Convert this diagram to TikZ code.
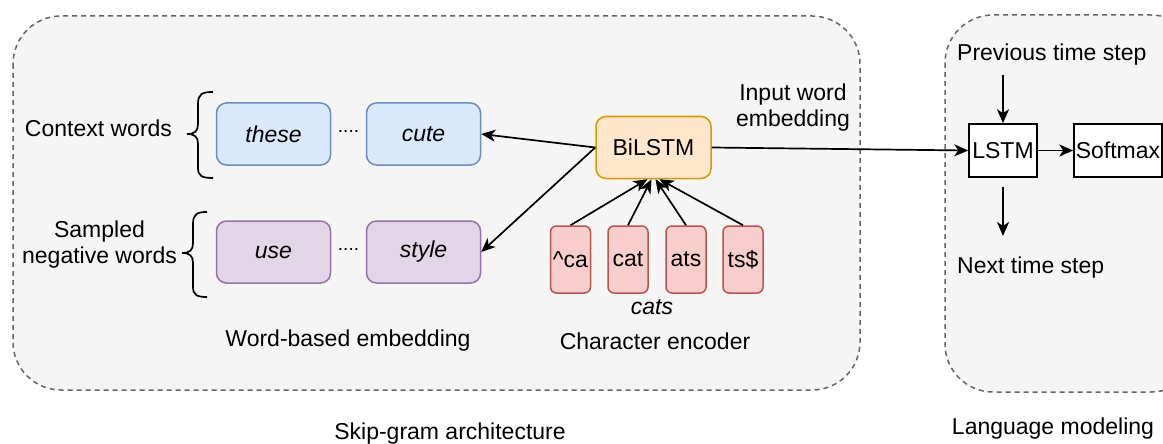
\documentclass[tikz,border=0pt]{standalone}
\usepackage{fontspec}
\setmainfont{Liberation Sans}
\usetikzlibrary{arrows.meta}
\definecolor{panelfill}{HTML}{F5F5F5}
\definecolor{panelline}{HTML}{666666}
\definecolor{bluefill}{HTML}{DAE8FC}
\definecolor{blueline}{HTML}{6C8EBF}
\definecolor{purplefill}{HTML}{E1D5E7}
\definecolor{purpleline}{HTML}{9673A6}
\definecolor{orangefill}{HTML}{FFE6CC}
\definecolor{orangeline}{HTML}{D79B00}
\definecolor{redfill}{HTML}{F8CECC}
\definecolor{redline}{HTML}{B85450}
\tikzset{
  lbl/.style={font=\fontsize{23}{26}\selectfont, inner sep=0pt},
  panel/.style={draw=panelline, fill=panelfill, line width=1.5pt,
    dash pattern=on 5pt off 4pt, rounded corners=48pt},
  wordbox/.style={lbl, rounded corners=10pt, line width=1.5pt,
    minimum width=114pt, minimum height=62pt, font=\fontsize{23}{26}\selectfont\itshape},
  ctxbox/.style={wordbox, fill=bluefill, draw=blueline},
  negbox/.style={wordbox, fill=purplefill, draw=purpleline},
  encbox/.style={lbl, rounded corners=10pt, line width=1.5pt, fill=orangefill,
    draw=orangeline, minimum width=115pt, minimum height=62pt},
  ngram/.style={lbl, rounded corners=6pt, line width=1.5pt, fill=redfill,
    draw=redline, minimum width=40pt, minimum height=67pt},
  plainbox/.style={lbl, draw=black, fill=white, line width=1.5pt, minimum height=53pt},
  arr/.style={line width=1.7pt, -{Stealth[length=14pt,width=12pt,inset=4pt]}},
  bracepath/.style={line width=1.7pt, draw=black},
  dots/.style={font=\fontsize{19}{22}\selectfont, inner sep=0pt},
}
\begin{document}
\begin{tikzpicture}[x=1pt,y=-1pt]
\useasboundingbox (0,0) rectangle (1163,444);
\begin{scope}
\clip (0,0) rectangle (1163,444);

% the two dashed panels
\draw[panel] (13,16) rectangle (860,390);
\draw[panel] (945,15) rectangle (1199,392);

% word-based embedding
\node[ctxbox] (these) at (273.5,134) {these};
\node[ctxbox] (cute)  at (423.5,134) {cute};
\node[negbox] (use)   at (273.5,252) {use};
\node[negbox] (style) at (423.5,252) {style};
\node[dots] (dotsA) at (348.5,131) {....};
\node[dots] (dotsB) at (348.5,249) {....};

\node[lbl] (ctxlabel) at (98.5,128) {Context words};
\node[lbl, align=center] (neglabel) at (99.5,245) {Sampled\\negative words};

% curly braces
\draw[bracepath] (213,92) .. controls (202,92) and (198,94) .. (198,104)
  -- (198,124) .. controls (198,131) and (195,134) .. (187,134)
  .. controls (195,134) and (198,137) .. (198,144)
  -- (198,168) .. controls (198,176) and (202,178) .. (213,178);
\draw[bracepath] (207,212) .. controls (197,212) and (193,214) .. (193,224)
  -- (193,243) .. controls (193,250) and (190,253) .. (182,253)
  .. controls (190,253) and (193,256) .. (193,263)
  -- (193,287) .. controls (193,295) and (197,297) .. (207,297);

% character encoder
\node[encbox] (bilstm) at (653.5,147.5) {BiLSTM};
\node[ngram] (g1) at (570.5,259.5) {\textasciicircum{}ca};
\node[ngram] (g2) at (628,259.5) {cat};
\node[ngram] (g3) at (686,259.5) {ats};
\node[ngram] (g4) at (743,259.5) {ts\$};
\node[lbl, font=\fontsize{23}{26}\selectfont\itshape] (word) at (652,307) {cats};

\draw[arr] (g1.north) -- ([xshift=-6pt]bilstm.south);
\draw[arr] (g2.north) -- ([xshift=-2pt]bilstm.south);
\draw[arr] (g3.north) -- ([xshift=2pt]bilstm.south);
\draw[arr] (g4.north) -- ([xshift=6pt]bilstm.south);

\draw[arr] (bilstm.west) -- (cute.east);
\draw[arr] (bilstm.west) -- (style.east);

\node[lbl, align=center] (inlabel) at (793,108) {Input word\\embedding};

\node[lbl] (wbe) at (348,341) {Word-based embedding};
\node[lbl] (ce)  at (655,341) {Character encoder};
\node[lbl] (sg)  at (450,434) {Skip-gram architecture};

% language modeling
\node[plainbox, minimum width=68pt] (lstm) at (1003,150.5) {LSTM};
\node[plainbox, minimum width=88pt] (softmax) at (1118,150.5) {Softmax};
\draw[arr] (bilstm.east) -- (lstm.west);
\draw[arr] (lstm.east) -- (softmax.west);

\node[lbl, anchor=west] (prev) at (957,55) {Previous time step};
\coordinate (prevend) at (1003,75);
\draw[arr] (prevend) -- (lstm.north);

\coordinate (nextA) at (1003,187);
\coordinate (nextB) at (1003,236);
\draw[arr] (nextA) -- (nextB);
\node[lbl, anchor=west] (next) at (957,268) {Next time step};

\node[lbl] (lm) at (1053,429) {Language modeling};
\end{scope}
\end{tikzpicture}
\end{document}
